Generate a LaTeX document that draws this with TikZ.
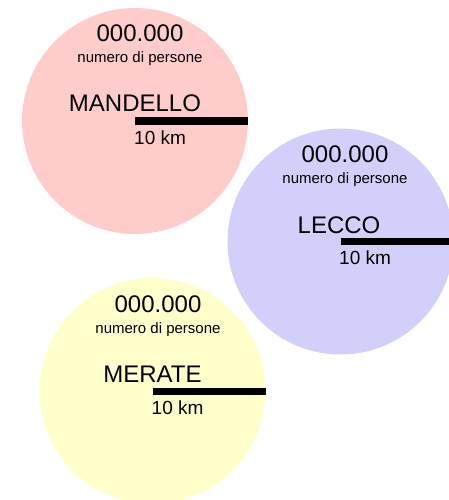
\documentclass[tikz,border=0pt]{standalone}
\usepackage{fontspec}
\setmainfont{Liberation Sans}
\definecolor{cityPink}{RGB}{255,204,204}
\definecolor{cityBlue}{RGB}{210,208,250}
\definecolor{cityYellow}{RGB}{255,255,204}

\begin{document}
\begin{tikzpicture}[x=1pt, y=-1pt,
        bigtext/.style={inner sep=0pt, anchor=base, font=\fontsize{24}{28}\selectfont},
        smalltext/.style={inner sep=0pt, anchor=base, font=\fontsize{15}{18}\selectfont},
        kmtext/.style={inner sep=0pt, anchor=base west, font=\fontsize{19}{22}\selectfont},
        scalebar/.style={line width=7pt}]

        \useasboundingbox (0,0) rectangle (448,500);

        % Mandello
        \coordinate (mandello) at (135,121);
        \fill[cityPink] (mandello) circle (113pt);
        \node[bigtext] (mandelloNum) at (140,42) {000.000};
        \node[smalltext] (mandelloPers) at (140,63) {numero di persone};
        \node[bigtext] (mandelloName) at (135,112) {MANDELLO};
        \draw[scalebar] (mandello) -- ++(113,0);
        \node[kmtext] (mandelloKm) at (134,144) {10 km};

        % Lecco
        \coordinate (lecco) at (340.5,241.5);
        \fill[cityBlue] (lecco) circle (113pt);
        \node[bigtext] (leccoNum) at (345,162) {000.000};
        \node[smalltext] (leccoPers) at (345,183) {numero di persone};
        \node[bigtext] (leccoName) at (339,233) {LECCO};
        \draw[scalebar] (lecco) -- ++(113,0);
        \node[kmtext] (leccoKm) at (339,264) {10 km};

        % Merate
        \coordinate (merate) at (152.5,391);
        \fill[cityYellow] (merate) circle (113pt);
        \node[bigtext] (merateNum) at (158,312) {000.000};
        \node[smalltext] (meratePers) at (158,333) {numero di persone};
        \node[bigtext] (merateName) at (152.5,382) {MERATE};
        \draw[scalebar] (merate) -- ++(113,0);
        \node[kmtext] (merateKm) at (151.5,414) {10 km};

    \end{tikzpicture}
\end{document}
